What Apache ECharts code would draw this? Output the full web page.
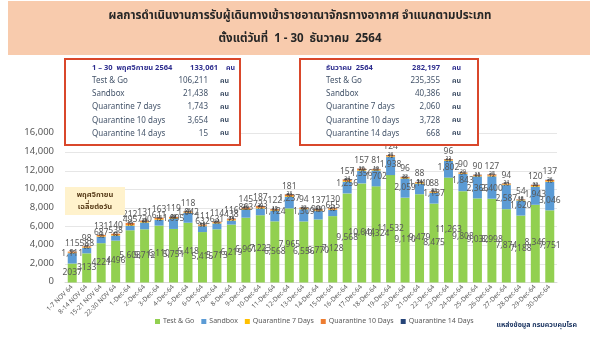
<!DOCTYPE html>
<html><head><meta charset="utf-8">
<script src="https://cdn.jsdelivr.net/npm/echarts@6/dist/echarts.min.js"></script>
<style>html,body{margin:0;padding:0;background:#fff}#c{width:600px;height:338px}</style>
</head><body><div id="c"></div>
<script>
const categories = ['1-7 NOV 64','8-14 NOV 64','15-21 NOV 64','22-30 NOV 64',
'1-Dec-64','2-Dec-64','3-Dec-64','4-Dec-64','5-Dec-64','6-Dec-64','7-Dec-64','8-Dec-64','9-Dec-64','10-Dec-64',
'11-Dec-64','12-Dec-64','13-Dec-64','14-Dec-64','15-Dec-64','16-Dec-64','17-Dec-64','18-Dec-64','19-Dec-64','20-Dec-64',
'21-Dec-64','22-Dec-64','23-Dec-64','24-Dec-64','25-Dec-64','26-Dec-64','27-Dec-64','28-Dec-64','29-Dec-64','30-Dec-64'];
const testAndGo = [2037,3133,4221,4496,
5608,5712,6110,5751,6418,5415,5713,6219,6961,7223,
6568,7965,6556,6770,7128,9568,10644,10324,11532,9110,
9479,8475,11263,9808,9032,8998,7874,7188,8346,7751];
const sandbox = [1111,588,687,538,
495,730,611,1095,1042,632,631,438,863,723,
1124,1237,1309,900,655,1256,1356,1702,1938,2059,
1140,1137,1802,1843,2366,2400,2587,1620,1943,3046];
const quarantine7 = [55,60,58,62,
70,65,72,68,60,58,66,75,80,72,
64,78,66,70,62,75,70,68,72,66,
74,70,69,64,66,72,70,58,70,70];
const quarantine10 = [115,98,131,140,
212,131,163,119,118,111,114,116,145,187,
122,181,94,137,130,157,157,81,124,96,
88,88,96,90,90,127,94,54,120,137];
const quarantine14 = [1,0,1,0,
15,20,18,22,25,19,21,24,26,20,
18,23,22,25,21,24,20,19,26,22,
24,23,22,20,25,28,24,18,22,26];
const yTicks = [0,2000,4000,6000,8000,10000,12000,14000,16000];
const seriesNames = ['Test & Go','Sandbox','Quarantine 7 Days','Quarantine 10 Days','Quarantine 14 Days'];
const novRows = [['1 – 30  พฤศจิกายน 2564','133,061'],['Test & Go','106,211'],['Sandbox','21,438'],['Quarantine 7 days','1,743'],['Quarantine 10 days','3,654'],['Quarantine 14 days','15']];
const decRows = [['ธันวาคม  2564','282,197'],['Test & Go','235,355'],['Sandbox','40,386'],['Quarantine 7 days','2,060'],['Quarantine 10 days','3,728'],['Quarantine 14 days','668']];
const titleLines = ['ผลการดำเนินงานการรับผู้เดินทางเข้าราชอาณาจักรทางอากาศ จำแนกตามประเภท','ตั้งแต่วันที่  1 - 30  ธันวาคม  2564'];

const FONT = 'Tahoma, "Noto Sans Thai", "Noto Sans", sans-serif';
const colors = ['#92D050','#5B9BD5','#FFC000','#ED7D31','#264478'];
const fmt = v => v.toLocaleString('en-US');
const labelColor = '#595959';

function txt(x, y, text, fill, font, align) {
  return {type:'text', x:x, y:y, z:101, style:{text:text, fill:fill, font:font, align:align||'left', verticalAlign:'middle'}};
}

function infoBox(x, y, w, h, rows, numRight, unitX, textX, headRight, headUnit) {
  const els = [{type:'rect', z:100, shape:{x:x,y:y,width:w,height:h}, style:{fill:'#fff', stroke:'#D9472B', lineWidth:2}}];
  rows.forEach((r,i) => {
    const yy = y + 9.5 + i*13.1;
    const bold = i===0;
    const col = bold ? '#2E2E8F' : '#44546A';
    const f = bold ? 'bold 7.5px ' : '8px ';
    els.push(txt(textX, yy, r[0], col, f+FONT, 'left'));
    els.push(txt(bold?headRight:numRight, yy, r[1], col, f+FONT, 'right'));
    els.push(txt(bold?headUnit:unitX, yy, 'คน', col, 'bold 7px '+FONT, 'left'));
  });
  return els;
}

const chart = echarts.init(document.getElementById('c'), null, {renderer:'canvas'});
const series = seriesNames.map((name, si) => {
  const data = [testAndGo, sandbox, quarantine7, quarantine10, quarantine14][si];
  let label;
  if (si===0) label = {show:true, position:'inside', color:labelColor, fontSize:8.5, fontFamily:FONT,
    formatter:p => p.dataIndex<4 ? String(p.value) : fmt(p.value)};
  else if (si===1) label = {show:true, position:'insideBottom', color:labelColor, fontSize:8.5, fontFamily:FONT, formatter:p=>fmt(p.value)};
  else if (si===3) label = {show:true, position:'top', distance:3, color:labelColor, fontSize:8.5, fontFamily:FONT};
  else label = {show:true, position:'inside', color:'#3a3a3a', fontSize:5, fontFamily:FONT};
  return {name, type:'bar', stack:'all', data, barWidth:9, itemStyle:{color:colors[si]}, label, emphasis:{disabled:true}};
});

chart.setOption({
  animation:false,
  color:colors,
  grid:{left:65, right:43, top:133.5, bottom:55.5},
  legend:{data:seriesNames, left:150, top:313, icon:'rect', itemWidth:5, itemHeight:5, itemGap:7,
    textStyle:{fontSize:7, color:'#595959', fontFamily:FONT, padding:[0,0,0,-2]}},
  xAxis:{type:'category', data:categories, axisTick:{show:false},
    axisLine:{lineStyle:{color:'#D9D9D9'}},
    axisLabel:{interval:0, rotate:45, fontSize:6.5, color:'#595959', fontFamily:FONT, margin:4}},
  yAxis:{type:'value', min:yTicks[0], max:yTicks[yTicks.length-1], interval:2000,
    axisLine:{show:false}, axisTick:{show:false},
    splitLine:{lineStyle:{color:'#E6E6E6'}},
    axisLabel:{fontSize:9.5, color:'#595959', fontFamily:FONT, margin:11}},
  series,
  graphic:[
    {type:'rect', z:-1, shape:{x:8,y:1,width:582,height:54}, style:{fill:'#F8CBAD'}},
    txt(300, 17, titleLines[0], '#262626', 'bold 11.5px '+FONT, 'center'),
    txt(300, 40, titleLines[1], '#262626', 'bold 11.5px '+FONT, 'center'),
    ...infoBox(65, 59, 175, 86, novRows, 208, 220, 92, 218, 226),
    ...infoBox(300, 59, 178, 86, decRows, 440, 452, 326, 440, 452),
    {type:'rect', z:100, shape:{x:65,y:187,width:60,height:28}, style:{fill:'#FFF2CC'}},
    txt(95, 195, 'พฤศจิกายน', '#5A3E1B', 'bold 7.5px '+FONT, 'center'),
    txt(95, 207, 'เฉลี่ยต่อวัน', '#5A3E1B', 'bold 7.5px '+FONT, 'center'),
    txt(577, 326, 'แหล่งข้อมูล กรมควบคุมโรค', '#1F3864', 'bold 7px '+FONT, 'right')
  ]
});
</script></body></html>
